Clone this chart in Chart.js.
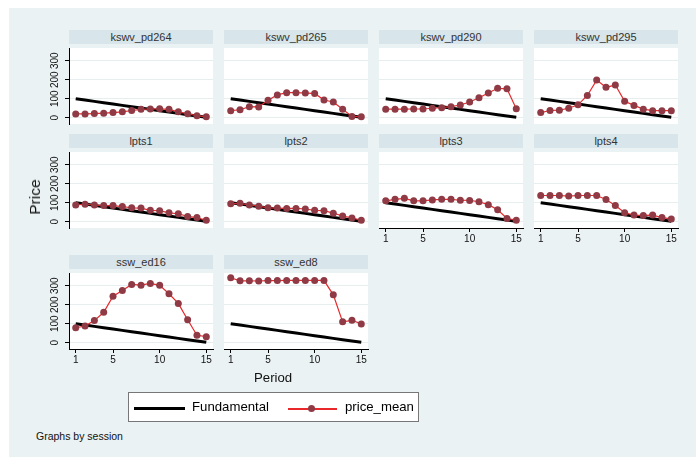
<!DOCTYPE html>
<html lang="en">
<head>
<meta charset="UTF-8">
<title>Price by session</title>
<script src="https://cdn.jsdelivr.net/npm/chart.js"></script>
<style>
    body {
        margin: 0;
        background: #fff;
        font-family: 'Liberation Sans', Arial, sans-serif;
    }
    #frame {
        position: absolute;
        left: 9px;
        top: 8px;
        width: 687px;
        height: 449px;
        background: #eaf2f3;
    }
    .strip {
        position: absolute;
        width: 144px;
        height: 14px;
        line-height: 14px;
        background: #d8e5ea;
        color: #333;
        font-size: 11px;
        text-align: center;
    }
    canvas.panel {
        position: absolute;
    }
    .label {
        position: absolute;
        color: #111;
        white-space: nowrap;
    }
    #legend {
        position: absolute;
        left: 128px;
        top: 392px;
        width: 289px;
        height: 28px;
        background: #fff;
        border: 1px solid #777;
        font-size: 13.2px;
    }
    #legend div { position: absolute; }
</style>
</head>
<body>
<div id="frame"></div>
<div id="panels"></div>

<div class="label" style="left:35px;top:197px;font-size:15.5px;transform:translate(-50%,-50%) rotate(-90deg);">Price</div>
<div class="label" style="left:254px;top:370px;font-size:13.2px;">Period</div>
<div id="legend">
    <div style="left:5px;top:14px;width:51px;height:3px;background:#000;"></div>
    <div style="left:63px;top:6px;">Fundamental</div>
    <div style="left:159px;top:15px;width:49px;height:1.5px;background:#e8282b;"></div>
    <div style="left:179px;top:12px;width:7px;height:7px;border-radius:50%;background:#8f3a44;"></div>
    <div style="left:216px;top:6px;">price_mean</div>
</div>
<div class="label" style="left:36px;top:430px;font-size:10.5px;">Graphs by session</div>

<script>
    // one panel per session, periods 1..15
    const sessions = ['kswv_pd264', 'kswv_pd265', 'kswv_pd290', 'kswv_pd295',
                      'lpts1', 'lpts2', 'lpts3', 'lpts4', 'ssw_ed16', 'ssw_ed8'];
    const periods = [1, 2, 3, 4, 5, 6, 7, 8, 9, 10, 11, 12, 13, 14, 15];
    const fundamental = [100, 93, 86, 79, 72, 65, 58, 51, 44, 37, 30, 23, 16, 9, 2];

    const kswv_pd264 = [20, 20, 22, 24, 27, 31, 38, 44, 46, 47, 44, 31, 21, 11, 5];
    const kswv_pd265 = [37, 42, 58, 57, 92, 120, 132, 132, 130, 128, 93, 83, 45, 7, 5];
    const kswv_pd290 = [45, 45, 45, 46, 46, 50, 53, 58, 67, 83, 105, 130, 155, 152, 47];
    const kswv_pd295 = [27, 38, 40, 50, 68, 117, 198, 160, 172, 87, 65, 45, 37, 37, 37];
    const lpts1 = [88, 92, 88, 85, 85, 80, 73, 72, 60, 58, 47, 42, 28, 22, 8];
    const lpts2 = [95, 97, 88, 82, 73, 72, 70, 70, 67, 60, 58, 45, 30, 20, 8];
    const lpts3 = [110, 118, 123, 110, 110, 115, 118, 118, 113, 112, 105, 90, 63, 17, 8];
    const lpts4 = [138, 138, 138, 135, 138, 138, 138, 117, 85, 47, 35, 33, 35, 22, 15];
    const ssw_ed16 = [79, 88, 117, 160, 245, 275, 307, 303, 312, 302, 258, 207, 121, 39, 32];
    const ssw_ed8 = [342, 326, 326, 325, 327, 327, 328, 328, 328, 328, 328, 252, 110, 118, 99];

    const priceMean = [kswv_pd264, kswv_pd265, kswv_pd290, kswv_pd295,
                       lpts1, lpts2, lpts3, lpts4, ssw_ed16, ssw_ed8];

    const yTicks = [0, 100, 200, 300];
    const xTicks = [1, 5, 10, 15];

    // panel layout
    const colLeft = [69, 224, 379, 534];
    const stripTop = [30, 134, 255];
    const plotW = 144, plotH = 80, stripH = 14;
    const padL = 44, padB = 26, padR = 4;

    const whitePlot = {
        id: 'whitePlot',
        beforeDraw(chart) {
            const a = chart.chartArea;
            const ctx = chart.ctx;
            ctx.save();
            ctx.fillStyle = '#fff';
            ctx.fillRect(a.left, a.top, a.right - a.left, a.bottom - a.top);
            ctx.restore();
        }
    };

    function noPad(scale) {
        scale.paddingTop = 0;
        scale.paddingBottom = 0;
        scale.paddingLeft = 0;
        scale.paddingRight = 0;
    }

    const holder = document.getElementById('panels');

    sessions.forEach(function (name, i) {
        const col = i % 4, row = Math.floor(i / 4);
        const showY = col === 0;
        const showX = i >= 6;
        const left = colLeft[col];
        const top = stripTop[row];

        const strip = document.createElement('div');
        strip.className = 'strip';
        strip.style.left = left + 'px';
        strip.style.top = top + 'px';
        strip.textContent = name;
        holder.appendChild(strip);

        const cv = document.createElement('canvas');
        cv.className = 'panel';
        cv.width = padL + plotW + padR;
        cv.height = plotH + padB;
        cv.style.left = (left - padL) + 'px';
        cv.style.top = (top + stripH) + 'px';
        holder.appendChild(cv);

        new Chart(cv.getContext('2d'), {
            type: 'line',
            data: {
                datasets: [{
                    label: 'Fundamental',
                    data: periods.map((p, k) => ({ x: p, y: fundamental[k] })),
                    borderColor: '#000',
                    borderWidth: 3,
                    pointRadius: 0,
                    order: 1
                }, {
                    label: 'price_mean',
                    data: periods.map((p, k) => ({ x: p, y: priceMean[i][k] })),
                    borderColor: '#e8282b',
                    borderWidth: 1.2,
                    pointRadius: 3.5,
                    pointBackgroundColor: '#8f3a44',
                    pointBorderWidth: 0,
                    order: 0
                }]
            },
            options: {
                responsive: false,
                animation: false,
                devicePixelRatio: 1,
                events: [],
                clip: false,
                layout: { padding: { left: 0, top: 0, right: padR, bottom: 0 } },
                elements: { line: { tension: 0 } },
                plugins: { legend: { display: false }, tooltip: { enabled: false } },
                scales: {
                    x: {
                        type: 'linear',
                        min: 0.28,
                        max: 15.72,
                        afterBuildTicks: s => { s.ticks = xTicks.map(v => ({ value: v })); },
                        afterFit: s => { s.height = padB; noPad(s); },
                        ticks: {
                            display: showX,
                            autoSkip: false,
                            maxRotation: 0,
                            padding: 1,
                            color: '#111',
                            font: { family: "'Liberation Sans', Arial, sans-serif", size: 10 }
                        },
                        grid: {
                            display: showX,
                            drawOnChartArea: false,
                            drawTicks: true,
                            tickLength: 4,
                            tickColor: '#000'
                        },
                        border: { display: showX, color: '#000', width: 1 }
                    },
                    y: {
                        min: -33,
                        max: 367,
                        afterBuildTicks: s => { s.ticks = yTicks.map(v => ({ value: v })); },
                        afterFit: s => { s.width = padL; noPad(s); },
                        ticks: {
                            display: showY,
                            minRotation: 90,
                            maxRotation: 90,
                            crossAlign: 'center',
                            padding: 1,
                            color: '#111',
                            font: { family: "'Liberation Sans', Arial, sans-serif", size: 10 }
                        },
                        grid: {
                            color: '#e6eef0',
                            lineWidth: 1,
                            drawTicks: showY,
                            tickLength: 4,
                            tickColor: '#000'
                        },
                        border: { display: showY, color: '#000', width: 1 }
                    }
                }
            },
            plugins: [whitePlot]
        });
    });
</script>
</body>
</html>
